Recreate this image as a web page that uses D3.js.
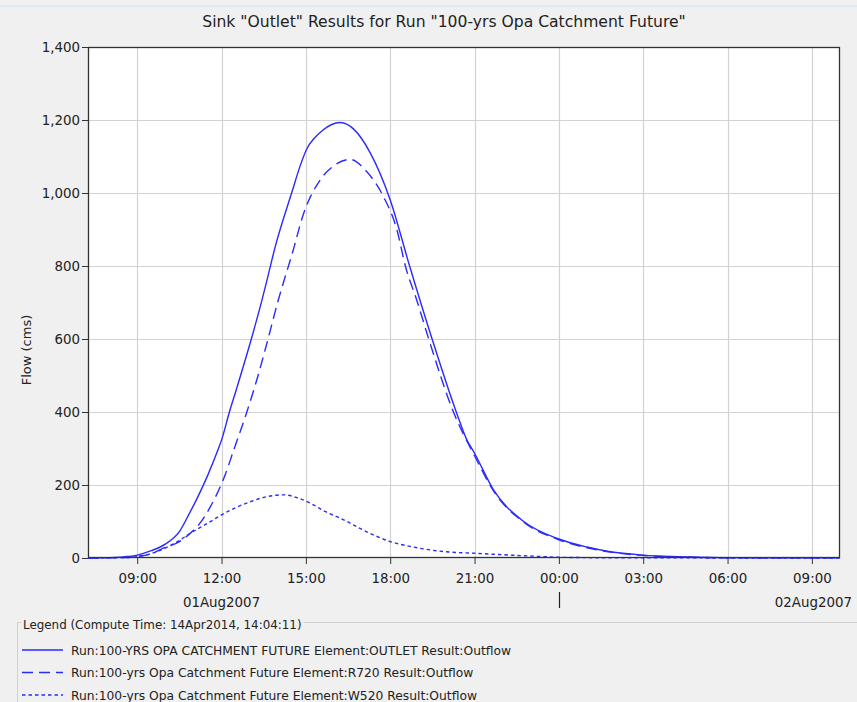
<!DOCTYPE html>
<html><head><meta charset="utf-8">
<script src="https://cdn.jsdelivr.net/npm/d3@7"></script>
<style>
html,body{margin:0;padding:0;background:#f0f0f0;}
svg{display:block;font-family:"DejaVu Sans",Tahoma,sans-serif;}
</style></head>
<body>
<script>
// ---- data (hours since 01Aug2007 00:00, flow in cms) ----
const outletHours = [7.25,8.0,8.5,9.0,9.5,10.0,10.5,10.83,11.5,11.87,12.0,12.28,12.5,13.06,13.44,13.62,13.91,14.51,14.8,15.04,15.3,15.6,15.9,16.22,16.7,17.29,18.0,18.69,19.49,20.35,20.73,21.0,21.68,22.75,24.0,25.0,25.83,27.0,28.0,29.0,30.0,34.0];
const outletFlow  = [0,1,3,8,20,38,72,118,225,296,323,400,455,600,707,762,853,1004,1075,1122,1150,1172,1187,1193,1175,1110,981,800,600,400,323,287,186,100,52,30,17,8,4,2,1,0.5];

const r720Hours = [7.25,8.5,9.0,9.5,9.93,10.5,10.89,11.2,11.6,12.13,12.43,12.9,13.3,13.62,14.02,14.23,14.5,14.92,15.51,16.0,16.58,17.17,17.76,18.24,18.54,18.95,19.37,20.25,21.0,21.68,22.75,24.0,25.0,25.83,27.0,28.0,29.0,30.0,34.0];
const r720Flow  = [0,1,4,12,27,45,68,92,140,228,295,400,500,590,707,762,830,944,1036,1075,1092,1058,990,899,800,705,600,400,280,183,98,50,28,16,7,3,1.5,0.8,0.3];

const w520Hours = [7.25,8.5,9.0,9.5,9.93,10.5,10.89,11.5,12.0,12.5,13.02,13.5,14.2,14.7,15.16,15.7,16.22,16.46,17.0,17.5,18.0,18.7,19.43,20.0,21.0,22.0,23.1,24.0,25.0,26.0,34.0];
const w520Flow  = [0,1,4,12,25,48,68,95,118,138,154,166,173,165,150,127,109,100,78,60,45,32,22,17,13,9,5,2,1,0.5,0];

const xTickHours  = [9,12,15,18,21,24,27,30,33];
const xTickLabels = ["09:00","12:00","15:00","18:00","21:00","00:00","03:00","06:00","09:00"];
const yTicks = [0,200,400,600,800,1000,1200,1400];
const dateLabels = ["01Aug2007","02Aug2007"];

const titleText = 'Sink "Outlet" Results for Run "100-yrs Opa Catchment Future"';
const yLabel = "Flow (cms)";
const legendTitle = "Legend (Compute Time: 14Apr2014, 14:04:11)";
const seriesNames = [
  "Run:100-YRS OPA CATCHMENT FUTURE Element:OUTLET Result:Outflow",
  "Run:100-yrs Opa Catchment Future Element:R720 Result:Outflow",
  "Run:100-yrs Opa Catchment Future Element:W520 Result:Outflow"
];

// ---- layout ----
const W = 857, H = 702;
const L = 88, R = 840, T = 47, B = 558;
const FS = 13.4;
const base = Date.UTC(2007,7,1);
const toDate = h => new Date(base + h*3600e3);

const svg = d3.select("body").append("svg").attr("width",W).attr("height",H);
svg.append("rect").attr("width",W).attr("height",H).attr("fill","#f0f0f0");
svg.append("rect").attr("x",0).attr("y",5).attr("width",W).attr("height",2).attr("fill","#dfe8f4");

const x = d3.scaleUtc().domain([toDate(7.25), toDate(34)]).range([L,R]);
const y = d3.scaleLinear().domain([0,1400]).range([B,T]);

svg.append("rect").attr("x",L).attr("y",T).attr("width",R-L).attr("height",B-T).attr("fill","#fff");

// grid
const g = svg.append("g");
g.selectAll(".vg").data(xTickHours).join("line")
  .attr("x1",d=>Math.round(x(toDate(d)))+0.5).attr("x2",d=>Math.round(x(toDate(d)))+0.5)
  .attr("y1",T).attr("y2",B).attr("stroke","#d2d2d2").attr("stroke-width",1.2);
g.selectAll(".hg").data(yTicks.slice(1,-1)).join("line")
  .attr("x1",L).attr("x2",R)
  .attr("y1",d=>Math.round(y(d))+0.5).attr("y2",d=>Math.round(y(d))+0.5)
  .attr("stroke","#d2d2d2").attr("stroke-width",1.2);

// axes
const xAxis = d3.axisBottom(x)
  .tickValues(xTickHours.map(toDate))
  .tickFormat((d,i)=>xTickLabels[i])
  .tickSize(6).tickSizeOuter(0);
const xa = svg.append("g").attr("transform",`translate(0,${B})`).call(xAxis);
xa.select(".domain").remove();
xa.attr("font-family",null);
xa.selectAll("line").attr("stroke","#333");
xa.selectAll("text").attr("font-size",FS).attr("fill","#222").attr("y",15).attr("dy","0.71em");

const yAxis = d3.axisLeft(y).tickValues(yTicks).tickFormat(d3.format(",")).tickSize(6).tickSizeOuter(0);
const ya = svg.append("g").attr("transform",`translate(${L},0)`).call(yAxis);
ya.select(".domain").remove();
ya.attr("font-family",null);
ya.selectAll("line").attr("stroke","#333");
ya.selectAll("text").attr("font-size",FS).attr("fill","#222").attr("x",-8);

// series
const line = d3.line().x(d=>x(toDate(d[0]))).y(d=>y(d[1])).curve(d3.curveMonotoneX);
const series = [
  {h:outletHours, v:outletFlow, dash:null},
  {h:r720Hours, v:r720Flow, dash:"11,6"},
  {h:w520Hours, v:w520Flow, dash:"3.5,3"}
];
svg.append("clipPath").attr("id","clip").append("rect")
  .attr("x",L).attr("y",T-2).attr("width",R-L).attr("height",B-T+3);
const sg = svg.append("g").attr("clip-path","url(#clip)");
series.forEach(s=>{
  sg.append("path").datum(s.h.map((h,i)=>[h,s.v[i]]))
    .attr("d",line).attr("fill","none").attr("stroke","#2a2aff")
    .attr("stroke-width",1.4).attr("stroke-dasharray",s.dash);
});

// frame
svg.append("rect").attr("x",L+0.5).attr("y",T+0.5).attr("width",R-L-1).attr("height",B-T-1)
  .attr("fill","none").attr("stroke","#333").attr("stroke-width",1.3);

// date labels
svg.append("text").attr("x",x(toDate(12))).attr("y",607).attr("text-anchor","middle")
  .attr("font-size",FS).attr("fill","#222").text(dateLabels[0]);
svg.append("text").attr("x",852).attr("y",607).attr("text-anchor","end")
  .attr("font-size",FS).attr("fill","#222").text(dateLabels[1]);
svg.append("line").attr("x1",Math.round(x(toDate(24)))+0.5).attr("x2",Math.round(x(toDate(24)))+0.5)
  .attr("y1",592).attr("y2",608).attr("stroke","#222").attr("stroke-width",1.2);

// title
svg.append("text").attr("x",444).attr("y",27).attr("text-anchor","middle")
  .attr("font-size",15.6).attr("fill","#222").text(titleText);

// y label
svg.append("text").attr("transform","translate(31,350) rotate(-90)").attr("text-anchor","middle")
  .attr("font-size",13).attr("fill","#222").text(yLabel);

// legend box
svg.append("line").attr("x1",17).attr("x2",W).attr("y1",622.5).attr("y2",622.5).attr("stroke","#d0d0d0");
svg.append("line").attr("x1",17.5).attr("x2",17.5).attr("y1",622).attr("y2",H).attr("stroke","#d0d0d0");
const ltBg = svg.append("rect").attr("fill","#f0f0f0");
const lt = svg.append("text").attr("x",23).attr("y",628.5).attr("font-size",11.9).attr("fill","#222").text(legendTitle);
const bb = lt.node().getBBox();
ltBg.attr("x",bb.x-2).attr("y",bb.y).attr("width",bb.width+4).attr("height",bb.height);

const leg = svg.append("g");
seriesNames.forEach((n,i)=>{
  const yy = 650 + i*22.5;
  leg.append("line").attr("x1",22).attr("x2",63).attr("y1",yy).attr("y2",yy)
    .attr("stroke","#2a2aff").attr("stroke-width",1.4).attr("stroke-dasharray",series[i].dash);
  leg.append("text").attr("x",71).attr("y",yy+4.5).attr("font-size",12.3).attr("fill","#222").text(n);
});
</script>
</body></html>
